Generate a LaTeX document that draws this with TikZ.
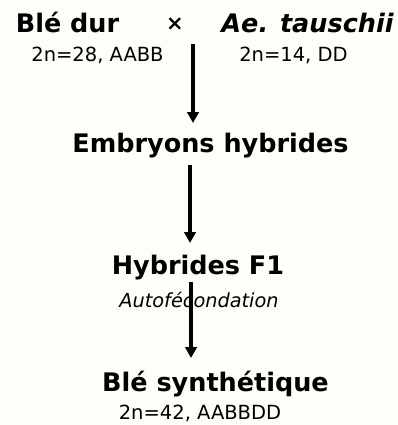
\documentclass[tikz,border=0pt]{standalone}
\usepackage{fontspec}
\setmainfont{DejaVu Sans}
\usetikzlibrary{arrows.meta}
\definecolor{paper}{RGB}{254,254,248}
\tikzset{
  title/.style={anchor=base, inner sep=0pt, font=\fontsize{25.5}{25.5}\selectfont\bfseries},
  geno/.style={anchor=base, inner sep=0pt, font=\fontsize{19.5}{19.5}\selectfont},
  note/.style={anchor=base, inner sep=0pt, font=\fontsize{19.3}{19.3}\selectfont\itshape},
  flow/.style={line width=3.4pt, -{Triangle[width=11.5pt,length=11pt]}}
}
\begin{document}
\begin{tikzpicture}[x=1pt,y=-1pt]
  \fill[paper] (0,0) rectangle (398,425);
  \useasboundingbox (0,0) rectangle (398,425);

  % parents
  \node[title] (bledur) at (67.5,33) {Blé dur};
  \node[anchor=base, inner sep=0pt, font=\fontsize{21}{21}\selectfont\bfseries] (cross) at (175,31) {×};
  \node[title, font=\fontsize{25.5}{25.5}\selectfont\bfseries\itshape] (aet) at (307.5,33) {Ae. tauschii};
  \node[geno] (g1) at (97.5,62) {2n=28, AABB};
  \node[geno] (g2) at (293.5,62) {2n=14, DD};

  % generations
  \node[title] (emb) at (210.5,152) {Embryons hybrides};
  \node[title] (hyb) at (198,274) {Hybrides F1};
  \node[note] (auto) at (199,307) {Autofécondation};
  \node[title] (syn) at (215.5,391) {Blé synthétique};
  \node[geno] (g3) at (200,419) {2n=42, AABBDD};

  % arrow end points
  \coordinate (a1s) at (193,44);
  \coordinate (a1e) at (193,123);
  \coordinate (a2s) at (190,165);
  \coordinate (a2e) at (190,243);
  \coordinate (a3s) at (191,282);
  \coordinate (a3e) at (191,358);

  \draw[flow] (a1s) -- (a1e);
  \draw[flow] (a2s) -- (a2e);
  \draw[flow] (a3s) -- (a3e);
\end{tikzpicture}
\end{document}
